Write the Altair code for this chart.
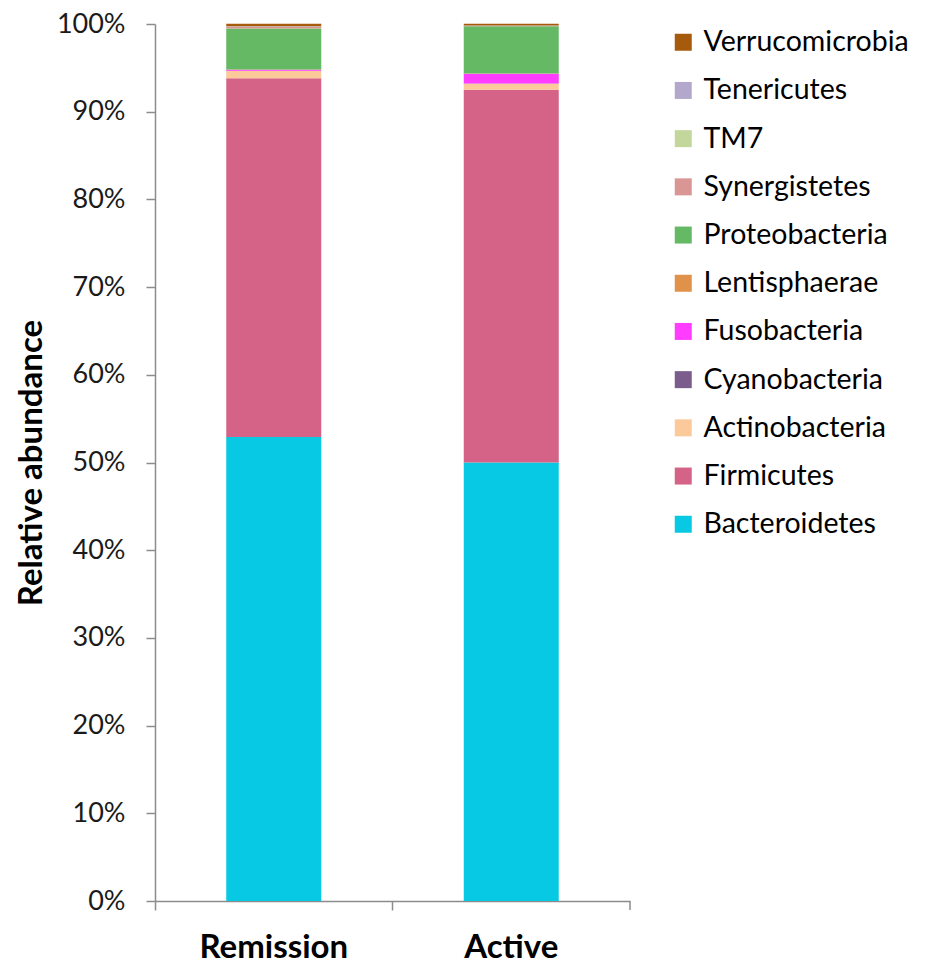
import altair as alt
import pandas as pd

groups = ["Remission", "Active"]
phyla = ["Bacteroidetes", "Firmicutes", "Actinobacteria", "Cyanobacteria", "Fusobacteria",
         "Lentisphaerae", "Proteobacteria", "Synergistetes", "TM7", "Tenericutes", "Verrucomicrobia"]
remission = [52.9, 40.9, 0.85, 0.02, 0.1, 0.03, 4.7, 0.2, 0.02, 0.03, 0.28]
active = [50.0, 42.5, 0.7, 0.02, 1.1, 0.03, 5.4, 0.02, 0.02, 0.03, 0.22]
colors = ["#07C9E3", "#D46387", "#FCC99A", "#7A5C8D", "#FF3CFF",
          "#E0924A", "#65B965", "#D99694", "#C3D69B", "#B3A8CC", "#A65B0C"]

rows = []
for g, vals in zip(groups, [remission, active]):
    for i, (p, v) in enumerate(zip(phyla, vals)):
        rows.append({"group": g, "phylum": p, "value": v / 100.0, "ord": i})
df = pd.DataFrame(rows)

legend_order = phyla[::-1]
legend_colors = colors[::-1]

FONT = "Lato"
H = 877

bars = alt.Chart(df).mark_bar(width=alt.RelativeBandSize(0.4)).encode(
    x=alt.X("group:N", sort=groups, title=None,
            scale=alt.Scale(paddingInner=0, paddingOuter=0),
            axis=alt.Axis(bandPosition=0, labelAngle=0, labelFontSize=33, labelFontWeight="bold",
                          labelFont=FONT, labelColor="#000", labelPadding=21,
                          domainColor="#8c8c8c", tickColor="#8c8c8c", tickSize=9,
                          domainWidth=1.5, tickWidth=1.5)),
    y=alt.Y("value:Q", stack="zero", title="Relative abundance",
            scale=alt.Scale(domain=[0, 1]),
            axis=alt.Axis(format=".0%", values=[i / 10 for i in range(11)], grid=False,
                          labelFontSize=27, labelFont=FONT, labelColor="#1a1a1a", labelPadding=21,
                          titleFontSize=33, titleFont=FONT, titleFontWeight="bold", titleColor="#000",
                          titlePadding=8, domainColor="#8c8c8c", tickColor="#8c8c8c", tickSize=9,
                          domainWidth=1.5, tickWidth=1.5)),
    color=alt.Color("phylum:N", scale=alt.Scale(domain=legend_order, range=legend_colors),
                    legend=alt.Legend(title=None, orient="none", legendX=514, legendY=4,
                                      labelFontSize=28.5, labelFont=FONT, labelColor="#000",
                                      symbolType="square", symbolSize=289, symbolStrokeWidth=0,
                                      rowPadding=19.2, labelOffset=6, labelLimit=300)),
    order=alt.Order("ord:Q", sort="ascending"),
)

end_tick = alt.Chart(pd.DataFrame({"a": [0]})).mark_rule(color="#8c8c8c", strokeWidth=1.5).encode(
    x=alt.value(475), y=alt.value(H), y2=alt.value(H + 9))

chart = alt.layer(bars, end_tick).properties(
    width=475, height=H,
    autosize=alt.AutoSizeParams(type="none"),
    padding={"left": 147, "top": 16, "right": 287, "bottom": 64},
).configure_view(stroke=None)

chart.save("out.html", embed_options={"renderer": "svg", "actions": False})
